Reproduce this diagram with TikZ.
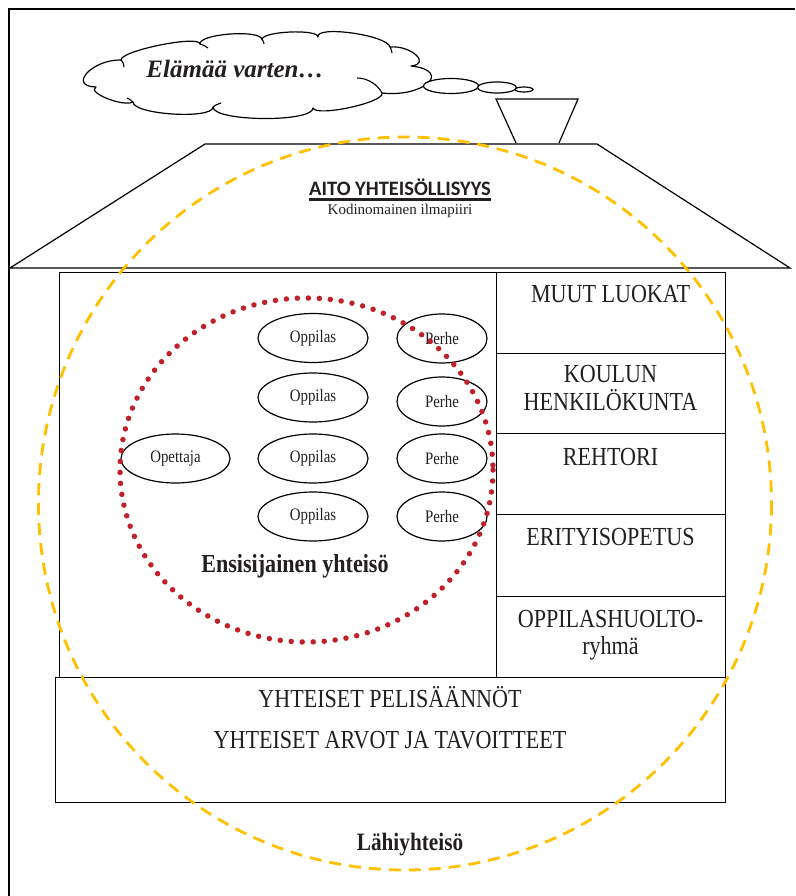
\documentclass[tikz,border=0pt]{standalone}
\usepackage{fontspec}
\setmainfont{Liberation Serif}
\newfontfamily\cond{Liberation Serif}[FakeStretch=0.85]
\newfontfamily\headsans{Carlito}
\usetikzlibrary{shapes.geometric}
\definecolor{gold}{RGB}{255,192,0}
\definecolor{dotred}{RGB}{192,32,42}
\definecolor{ink}{RGB}{35,31,32}
\begin{document}
\begin{tikzpicture}[x=1pt,y=-1pt,
  outline/.style={draw=black, line width=1.2pt},
  bubble/.style={ellipse, draw=black, line width=1.2pt, inner sep=0pt, fill=white},
  person/.style={ellipse, draw=black, line width=1.2pt, minimum height=49pt, inner sep=0pt,
    font=\cond\fontsize{17.5}{20}\selectfont, text=ink},
  boxtext/.style={font=\cond\fontsize{26}{28}\selectfont, text=ink, inner sep=0pt, anchor=base},
  boldtext/.style={font=\cond\bfseries\fontsize{25}{28}\selectfont, text=ink, inner sep=0pt, anchor=base},
  panel/.style={draw=black, line width=1.2pt, anchor=north west, inner sep=0pt},
  sidebox/.style={panel, minimum width=229pt},
]
\useasboundingbox (0,0) rectangle (795,896);
\fill[white] (0,0) rectangle (795,896);

% frame
\draw[line width=1.6pt] (9,896) -- (9,9) -- (795,9);

% roof and chimney
\draw[outline, line join=miter] (10,268) -- (205,144) -- (597,144) -- (790,268) -- cycle;
\draw[outline, fill=white] (516,143) -- (496,99) -- (578,99) -- (559,143);

% cloud
\draw[outline, fill=white, line join=round]
  (96,87) .. controls (67.3,86.3) and (92.3,59.3) .. (121,60)
          .. controls (120.3,50.7) and (199.3,34.7) .. (200,44)
          .. controls (198.7,33.7) and (260.7,29.2) .. (262,39.5)
          .. controls (262,31.2) and (318,28.7) .. (318,37)
          .. controls (315.3,25) and (387.3,35) .. (390,47)
          .. controls (410.7,45) and (431.7,64) .. (411,66)
          .. controls (453,70.7) and (424,97.7) .. (382,93)
          .. controls (385.3,102.3) and (316.3,117.3) .. (313,108)
          .. controls (313,122.7) and (213,121.7) .. (213,107)
          .. controls (213,119.7) and (133,114.7) .. (133,102)
          .. controls (123,107.3) and (86,92.3) .. (96,87) -- cycle;
\draw[line width=1.1pt] (357,78) .. controls (368,78) and (378,85) .. (382,93);
\draw[line width=1.1pt] (121,60) .. controls (123,62) and (124,64) .. (124,67);
\draw[line width=1.1pt] (200,44) .. controls (203,45) and (206,46) .. (208,48);
\draw[line width=1.1pt] (262,39.5) .. controls (263,41) and (264,42) .. (264,44);
\draw[line width=1.1pt] (390,47) .. controls (391,49) and (392,51) .. (392,53);
\draw[line width=1.1pt] (213,107) .. controls (215,105) and (218,104) .. (221,103);
\draw[line width=1.1pt] (133,102) .. controls (131,100) and (129,99) .. (127,98);

\node[font=\bfseries\itshape\fontsize{25}{28}\selectfont, text=ink, inner sep=0pt, anchor=base] (motto) at (235,78) {Elämää varten…};
\node[bubble, minimum width=55pt, minimum height=15pt] (bubA) at (451,86) {};
\node[bubble, minimum width=39pt, minimum height=11pt] (bubB) at (497,87.5) {};
\node[bubble, minimum width=18pt, minimum height=5pt] (bubC) at (524,89.5) {};

% roof texts
\node[font=\headsans\bfseries\fontsize{20.5}{22}\selectfont, text=ink, inner sep=0pt, anchor=base] (aito) at (400,195) {AITO YHTEISÖLLISYYS};
\draw[line width=3pt, ink] (aito.base west) ++(0,4) coordinate (ulA) -- (aito.base east |- ulA) coordinate (ulB);
\node[font=\fontsize{15}{18}\selectfont, text=ink, inner sep=0pt, anchor=base] (kodi) at (400,214) {Kodinomainen ilmapiiri};

% house body
\node[panel, minimum width=437pt, minimum height=405pt] (core) at (59,272) {};
\node[sidebox, minimum height=81pt] (sb1) at (496,272) {};
\node[sidebox, minimum height=80pt] (sb2) at (496,353) {};
\node[sidebox, minimum height=81pt] (sb3) at (496,433) {};
\node[sidebox, minimum height=82pt] (sb4) at (496,514) {};
\node[sidebox, minimum height=81pt] (sb5) at (496,596) {};

\node[boxtext] (t1) at (610.5,302) {MUUT LUOKAT};
\node[boxtext] (t2a) at (610.5,382) {KOULUN};
\node[boxtext] (t2b) at (610.5,410) {HENKILÖKUNTA};
\node[boxtext] (t3) at (610.5,465) {REHTORI};
\node[boxtext] (t4) at (610.5,545) {ERITYISOPETUS};
\node[boxtext] (t5a) at (610.5,627) {OPPILASHUOLTO-};
\node[boxtext] (t5b) at (610.5,654) {ryhmä};

% foundation
\node[panel, minimum width=670pt, minimum height=125pt] (base) at (55,677) {};
\node[boxtext] (r1) at (390,707) {YHTEISET PELISÄÄNNÖT};
\node[boxtext] (r2) at (390,748) {YHTEISET ARVOT JA TAVOITTEET};

% people
\node[person, minimum width=109pt] (teacher) at (175.5,458.5) {Opettaja};
\node[person, minimum width=110pt] (p1) at (313,338) {Oppilas};
\node[person, minimum width=110pt] (p2) at (313,397.5) {Oppilas};
\node[person, minimum width=110pt] (p3) at (313,458.5) {Oppilas};
\node[person, minimum width=110pt] (p4) at (313,516.5) {Oppilas};
\node[person, minimum width=90pt] (f1) at (442,338.5) {Perhe};
\node[person, minimum width=90pt] (f2) at (442,401.5) {Perhe};
\node[person, minimum width=90pt] (f3) at (442,458.5) {Perhe};
\node[person, minimum width=90pt] (f4) at (442,516.5) {Perhe};

\node[boldtext, font=\cond\bfseries\fontsize{26}{28}\selectfont] (primary) at (295,572) {Ensisijainen yhteisö};
\node[boldtext] (local) at (410,850) {Lähiyhteisö};

% circles
\draw[dotred, line width=5.5pt, line cap=round, dash pattern=on 0pt off 11pt] (306.5,470) ellipse [x radius=186.5, y radius=172];
\draw[gold, line width=2.8pt, dash pattern=on 12pt off 8pt] (405,503.5) circle [radius=366.5];
\end{tikzpicture}
\end{document}
